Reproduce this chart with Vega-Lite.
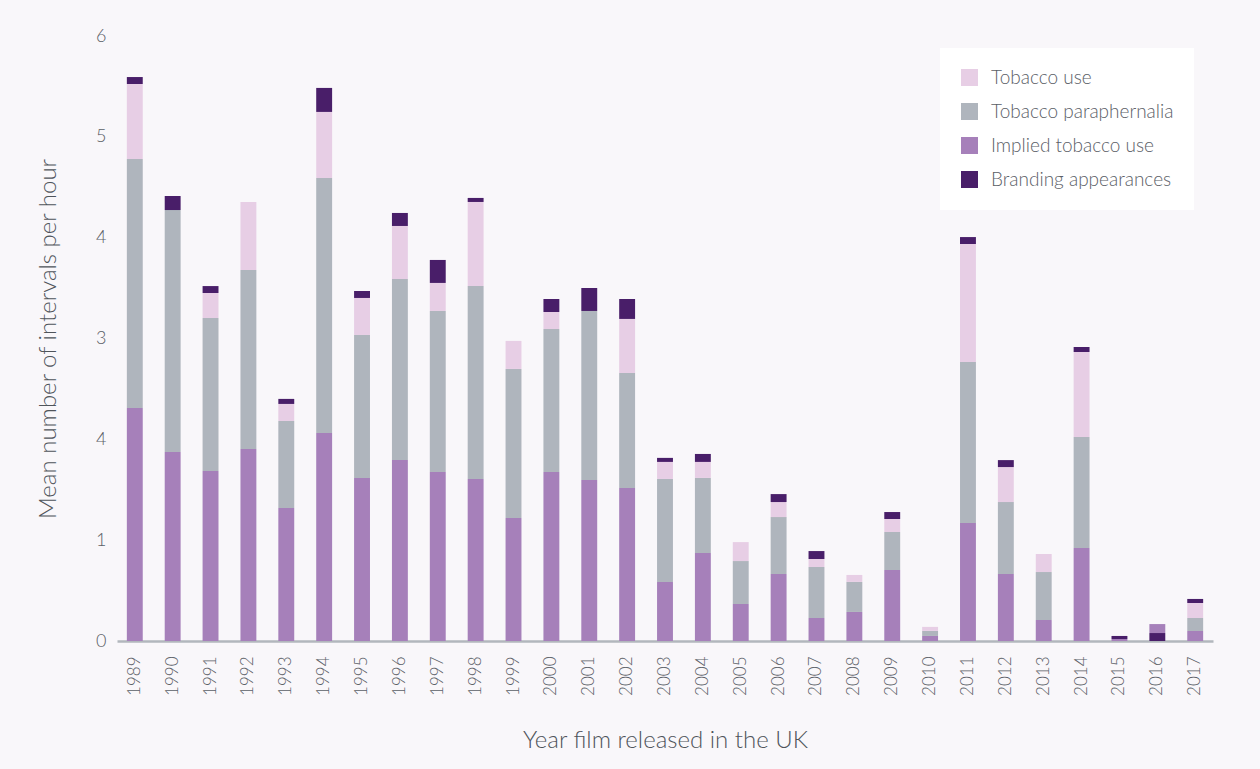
{
  "$schema": "https://vega.github.io/schema/vega-lite/v6.json",
  "autosize": {"type": "none"},
  "padding": {"left": 117, "top": 36, "right": 47, "bottom": 128},
  "width": 1096,
  "height": 605,
  "background": "#f9f7fa",
  "config": {"view": {"stroke": null}, "font": "Lato"},
  "data": {"values": [
    {"year":"1989","category":"Implied tobacco use","value":2.311},{"year":"1989","category":"Tobacco paraphernalia","value":2.469},{"year":"1989","category":"Tobacco use","value":0.744},{"year":"1989","category":"Branding appearances","value":0.069},
    {"year":"1990","category":"Implied tobacco use","value":1.874},{"year":"1990","category":"Tobacco paraphernalia","value":2.400},{"year":"1990","category":"Tobacco use","value":0},{"year":"1990","category":"Branding appearances","value":0.139},
    {"year":"1991","category":"Implied tobacco use","value":1.686},{"year":"1991","category":"Tobacco paraphernalia","value":1.517},{"year":"1991","category":"Tobacco use","value":0.248},{"year":"1991","category":"Branding appearances","value":0.069},
    {"year":"1992","category":"Implied tobacco use","value":1.904},{"year":"1992","category":"Tobacco paraphernalia","value":1.775},{"year":"1992","category":"Tobacco use","value":0.674},{"year":"1992","category":"Branding appearances","value":0},
    {"year":"1993","category":"Implied tobacco use","value":1.319},{"year":"1993","category":"Tobacco paraphernalia","value":0.863},{"year":"1993","category":"Tobacco use","value":0.169},{"year":"1993","category":"Branding appearances","value":0.050},
    {"year":"1994","category":"Implied tobacco use","value":2.063},{"year":"1994","category":"Tobacco paraphernalia","value":2.529},{"year":"1994","category":"Tobacco use","value":0.655},{"year":"1994","category":"Branding appearances","value":0.238},
    {"year":"1995","category":"Implied tobacco use","value":1.617},{"year":"1995","category":"Tobacco paraphernalia","value":1.418},{"year":"1995","category":"Tobacco use","value":0.367},{"year":"1995","category":"Branding appearances","value":0.069},
    {"year":"1996","category":"Implied tobacco use","value":1.795},{"year":"1996","category":"Tobacco paraphernalia","value":1.795},{"year":"1996","category":"Tobacco use","value":0.526},{"year":"1996","category":"Branding appearances","value":0.129},
    {"year":"1997","category":"Implied tobacco use","value":1.676},{"year":"1997","category":"Tobacco paraphernalia","value":1.597},{"year":"1997","category":"Tobacco use","value":0.278},{"year":"1997","category":"Branding appearances","value":0.228},
    {"year":"1998","category":"Implied tobacco use","value":1.607},{"year":"1998","category":"Tobacco paraphernalia","value":1.914},{"year":"1998","category":"Tobacco use","value":0.833},{"year":"1998","category":"Branding appearances","value":0.040},
    {"year":"1999","category":"Implied tobacco use","value":1.220},{"year":"1999","category":"Tobacco paraphernalia","value":1.478},{"year":"1999","category":"Tobacco use","value":0.278},{"year":"1999","category":"Branding appearances","value":0},
    {"year":"2000","category":"Implied tobacco use","value":1.676},{"year":"2000","category":"Tobacco paraphernalia","value":1.418},{"year":"2000","category":"Tobacco use","value":0.169},{"year":"2000","category":"Branding appearances","value":0.129},
    {"year":"2001","category":"Implied tobacco use","value":1.597},{"year":"2001","category":"Tobacco paraphernalia","value":1.676},{"year":"2001","category":"Tobacco use","value":0},{"year":"2001","category":"Branding appearances","value":0.228},
    {"year":"2002","category":"Implied tobacco use","value":1.517},{"year":"2002","category":"Tobacco paraphernalia","value":1.141},{"year":"2002","category":"Tobacco use","value":0.536},{"year":"2002","category":"Branding appearances","value":0.198},
    {"year":"2003","category":"Implied tobacco use","value":0.585},{"year":"2003","category":"Tobacco paraphernalia","value":1.022},{"year":"2003","category":"Tobacco use","value":0.169},{"year":"2003","category":"Branding appearances","value":0.040},
    {"year":"2004","category":"Implied tobacco use","value":0.873},{"year":"2004","category":"Tobacco paraphernalia","value":0.744},{"year":"2004","category":"Tobacco use","value":0.159},{"year":"2004","category":"Branding appearances","value":0.079},
    {"year":"2005","category":"Implied tobacco use","value":0.367},{"year":"2005","category":"Tobacco paraphernalia","value":0.426},{"year":"2005","category":"Tobacco use","value":0.188},{"year":"2005","category":"Branding appearances","value":0},
    {"year":"2006","category":"Implied tobacco use","value":0.664},{"year":"2006","category":"Tobacco paraphernalia","value":0.565},{"year":"2006","category":"Tobacco use","value":0.149},{"year":"2006","category":"Branding appearances","value":0.079},
    {"year":"2007","category":"Implied tobacco use","value":0.228},{"year":"2007","category":"Tobacco paraphernalia","value":0.506},{"year":"2007","category":"Tobacco use","value":0.079},{"year":"2007","category":"Branding appearances","value":0.079},
    {"year":"2008","category":"Implied tobacco use","value":0.288},{"year":"2008","category":"Tobacco paraphernalia","value":0.298},{"year":"2008","category":"Tobacco use","value":0.069},{"year":"2008","category":"Branding appearances","value":0},
    {"year":"2009","category":"Implied tobacco use","value":0.704},{"year":"2009","category":"Tobacco paraphernalia","value":0.377},{"year":"2009","category":"Tobacco use","value":0.129},{"year":"2009","category":"Branding appearances","value":0.069},
    {"year":"2010","category":"Implied tobacco use","value":0.05},{"year":"2010","category":"Tobacco paraphernalia","value":0.05},{"year":"2010","category":"Tobacco use","value":0.04},{"year":"2010","category":"Branding appearances","value":0},
    {"year":"2011","category":"Implied tobacco use","value":1.170},{"year":"2011","category":"Tobacco paraphernalia","value":1.597},{"year":"2011","category":"Tobacco use","value":1.170},{"year":"2011","category":"Branding appearances","value":0.069},
    {"year":"2012","category":"Implied tobacco use","value":0.664},{"year":"2012","category":"Tobacco paraphernalia","value":0.714},{"year":"2012","category":"Tobacco use","value":0.347},{"year":"2012","category":"Branding appearances","value":0.069},
    {"year":"2013","category":"Implied tobacco use","value":0.208},{"year":"2013","category":"Tobacco paraphernalia","value":0.476},{"year":"2013","category":"Tobacco use","value":0.179},{"year":"2013","category":"Branding appearances","value":0},
    {"year":"2014","category":"Implied tobacco use","value":0.922},{"year":"2014","category":"Tobacco paraphernalia","value":1.101},{"year":"2014","category":"Tobacco use","value":0.843},{"year":"2014","category":"Branding appearances","value":0.050},
    {"year":"2015","category":"Implied tobacco use","value":0.02},{"year":"2015","category":"Tobacco paraphernalia","value":0},{"year":"2015","category":"Tobacco use","value":0},{"year":"2015","category":"Branding appearances","value":0.03},
    {"year":"2016","category":"Implied tobacco use","value":0.089},{"year":"2016","category":"Tobacco paraphernalia","value":0},{"year":"2016","category":"Tobacco use","value":0},{"year":"2016","category":"Branding appearances","value":0.079},
    {"year":"2017","category":"Implied tobacco use","value":0.099},{"year":"2017","category":"Tobacco paraphernalia","value":0.129},{"year":"2017","category":"Tobacco use","value":0.149},{"year":"2017","category":"Branding appearances","value":0.040}
  ]},
  "transform": [
    {"calculate": "datum.year == '2016' && datum.category == 'Branding appearances' ? -1 : indexof(['Implied tobacco use', 'Tobacco paraphernalia', 'Tobacco use', 'Branding appearances'], datum.category)", "as": "stackRank"}
  ],
  "mark": {"type": "bar"},
  "encoding": {
    "x": {
      "field": "year", "type": "ordinal",
      "scale": {"paddingInner": 0.58, "paddingOuter": 0.26},
      "axis": {
        "title": "Year film released in the UK",
        "titleFont": "Lato", "titleFontSize": 24, "titleFontWeight": 300, "titleColor": "#4f545a", "titlePadding": 33,
        "labelAngle": -90, "labelFont": "Lato", "labelFontSize": 17, "labelFontWeight": 300, "labelColor": "#5b6067", "labelPadding": 15,
        "ticks": false, "domainColor": "#b2b7bd", "domainWidth": 2.5
      }
    },
    "y": {
      "field": "value", "type": "quantitative", "stack": "zero",
      "scale": {"domain": [0, 6], "nice": false},
      "axis": {
        "title": "Mean number of intervals per hour",
        "titleFont": "Lato", "titleFontSize": 24, "titleFontWeight": 300, "titleColor": "#4f545a", "titlePadding": 35,
        "values": [0, 1, 2, 3, 4, 5, 6],
        "labelExpr": "datum.value == 2 ? '4' : datum.label",
        "labelFont": "Lato", "labelFontSize": 18, "labelFontWeight": 300, "labelColor": "#5b6067", "labelPadding": 11,
        "grid": false, "ticks": false, "domain": false
      }
    },
    "order": {"field": "stackRank", "type": "quantitative", "sort": "ascending"},
    "color": {
      "field": "category", "type": "nominal",
      "scale": {
        "domain": ["Tobacco use", "Tobacco paraphernalia", "Implied tobacco use", "Branding appearances"],
        "range": ["#e7cee5", "#afb5bd", "#a680ba", "#491e69"]
      },
      "legend": {
        "title": null,
        "orient": "none", "legendX": 823, "legendY": 12,
        "fillColor": "#ffffff", "padding": 20,
        "symbolType": "square", "symbolSize": 289, "symbolStrokeWidth": 0, "symbolOpacity": 1,
        "labelFont": "Lato", "labelFontSize": 19, "labelFontWeight": 300, "labelColor": "#5b6067", "labelOffset": 12, "labelLimit": 400,
        "rowPadding": 14
      }
    }
  }
}
